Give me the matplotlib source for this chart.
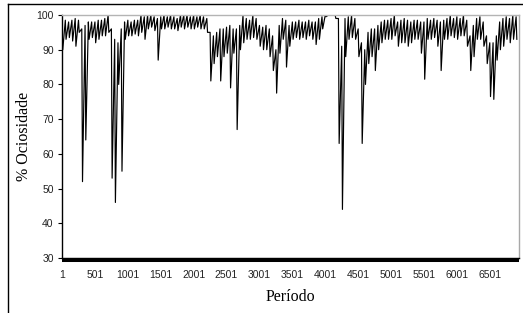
import numpy as np
import matplotlib
matplotlib.use("Agg")
import matplotlib.pyplot as plt
from matplotlib.lines import Line2D
from matplotlib.transforms import offset_copy

# periodos agrupados de 50 em 50 (inicio de cada grupo)
bin_start = np.arange(0, 6950, 50)

# maximo e minimo lidos em cada grupo
band_hi = [97, 98.5, 98, 98.5, 99, 98.5, 96, 97, 98, 98,
           98, 98.5, 98.5, 99, 100, 96, 93, 92, 96, 98,
           98.5, 98, 98.5, 98.5, 100, 99.5, 100, 100, 99.5, 99,
           99.5, 100, 99.5, 100, 99.5, 99, 100, 100, 100, 99.5,
           100, 99.5, 100, 99.5, 99, 95, 94, 95, 96, 96,
           96.5, 97, 96, 96, 97, 100, 99, 98.5, 100, 99,
           97, 96.5, 97, 96, 94, 90, 97, 99, 98.5, 97,
           98, 98, 98.5, 98, 98, 98.5, 98, 98, 99, 99.5,
           100, 100, 100, 100, 99, 91, 99, 99.5, 100, 99,
           96, 92, 90, 95, 96, 96, 97, 98, 98.5, 98.5,
           99, 100, 98, 98.5, 99, 98.5, 98, 98.5, 98.5, 98,
           98, 99, 98.5, 99, 98.5, 98, 98.5, 99, 100, 99,
           99.5, 99, 100, 98.5, 94, 97, 99, 99.5, 98, 94,
           92, 92, 94, 98, 99, 99.5, 99, 100, 99.5]
band_lo = [90, 93, 93.5, 92.5, 91, 95, 52, 64, 93, 93.5,
           92, 93, 94, 94, 95, 53, 46, 80, 55, 93,
           94, 94, 94.5, 94, 95, 93, 96, 96.5, 95.5, 87,
           96, 96, 96.5, 96, 96, 95.5, 96.5, 96, 96.5, 96,
           96, 96.5, 96, 96, 95, 81, 86, 88, 81, 88,
           89, 79, 89, 67, 90, 92, 93, 93, 93.5, 93,
           91, 90, 90, 88, 84, 77.5, 89, 93, 85, 91,
           93, 93.5, 93, 93.5, 93, 94, 93, 91.5, 93, 96,
           99.5, 100, 100, 99, 63, 44, 88, 93, 93.5, 93,
           88, 63, 80, 86, 88, 84, 90, 92, 93, 93,
           93, 94, 91, 92, 92, 91, 92, 93, 93, 89,
           81.5, 93, 93, 93.5, 91, 84, 93, 93, 94, 93.5,
           93, 94, 94, 91, 84, 88, 93, 93, 91, 86,
           76.5, 75.7, 87, 90, 91, 93, 92, 93, 93]

xtick_vals = [1, 501, 1001, 1501, 2001, 2501, 3001, 3501, 4001, 4501, 5001, 5501, 6001, 6501]
ytick_vals = [30, 40, 50, 60, 70, 80, 90, 100]


def main():

    # serie: maximo e minimo de cada grupo quase na mesma coluna
    x = np.column_stack([bin_start + 1, bin_start + 12]).ravel()
    y = np.column_stack([band_hi, band_lo]).ravel()

    fig = plt.figure(figsize=(5.23, 3.13), dpi=100)
    ax = fig.add_axes([62/523, 1 - 258/313, 457/523, 243/313])

    ax.plot(x, y, color="black", linewidth=0.85)

    ax.set_xlim(0.5, 6945)
    ax.set_ylim(30, 100)
    ax.set_yticks(ytick_vals)
    ax.set_xticks(xtick_vals)
    ax.set_xticklabels([str(v) for v in xtick_vals])

    for lab in ax.get_xticklabels() + ax.get_yticklabels():
        lab.set_fontfamily("Liberation Sans")
        lab.set_fontsize(7.5)
        lab.set_color("#222222")
    ax.tick_params(axis="x", length=0, pad=9)
    ax.tick_params(axis="y", length=3, width=0.8, pad=3, direction="out")

    ax.spines["left"].set_color("black")
    ax.spines["bottom"].set_color("black")
    ax.spines["top"].set_color("#b4b4b4")
    ax.spines["right"].set_color("#a8a8a8")
    for s in ax.spines.values():
        s.set_linewidth(1.0)

    # marcas de categoria (faixa preta densa no eixo x)
    trans = offset_copy(ax.transAxes, fig=fig, y=-1.4, units="points")
    ax.plot([0, 1], [0, 0], transform=trans, color="black", linewidth=2.9,
            solid_capstyle="butt", clip_on=False)

    ax.set_ylabel("% Ociosidade", family="Liberation Serif", fontsize=11.5, labelpad=3)
    ax.set_xlabel("Período", family="Liberation Serif", fontsize=11.5, labelpad=6)

    # moldura externa
    fig.add_artist(Line2D([8/523, 8/523], [0, 1 - 4/313], color="black", linewidth=1.0))
    fig.add_artist(Line2D([8/523, 1], [1 - 4/313, 1 - 4/313], color="black", linewidth=1.0))

    fig.savefig("out.png", dpi=100)


if __name__ == '__main__':
    main()
